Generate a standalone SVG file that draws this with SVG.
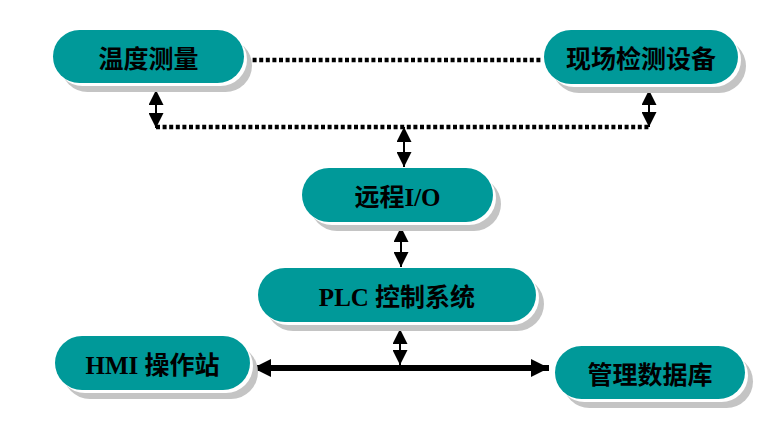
<svg xmlns="http://www.w3.org/2000/svg" width="782" height="437" viewBox="0 0 782 437">
<style>
.sh{fill:#c4c4c4}
.wh{fill:#ffffff}
.pill{fill:#009999}
.lbl{font-family:"Liberation Serif","Noto Sans CJK SC",serif;font-size:25px;font-weight:bold;fill:#000;text-anchor:middle}
.dot{stroke:#000;stroke-width:4.5;stroke-dasharray:4 2.6;fill:none}
.va{stroke:#000;stroke-width:2;fill:none;marker-start:url(#ah);marker-end:url(#ah)}
.ha{stroke:#000;stroke-width:6;fill:none;marker-start:url(#ahb);marker-end:url(#ahb)}
</style>
<defs>
<marker id="ah" markerUnits="userSpaceOnUse" viewBox="0 0 15 15" refX="15" refY="7.5" markerWidth="15" markerHeight="15" orient="auto-start-reverse">
<path d="M0,0 L15,7.5 L0,15 Z" fill="#000"/>
</marker>
<marker id="ahb" markerUnits="userSpaceOnUse" viewBox="0 0 18 18" refX="18" refY="9" markerWidth="18" markerHeight="18" orient="auto-start-reverse">
<path d="M0,0 L18,9 L0,18 Z" fill="#000"/>
</marker>
</defs>
<g id="connectors">
<line class="dot" x1="246" y1="60" x2="543" y2="60"/>
<line class="dot" x1="156" y1="127" x2="651" y2="127"/>
<line class="va" x1="156" y1="90" x2="156" y2="128"/>
<line class="va" x1="649" y1="90" x2="649" y2="127"/>
<line class="va" x1="404" y1="127" x2="404" y2="167"/>
<line class="va" x1="401" y1="227" x2="401" y2="267"/>
<line class="va" x1="400" y1="329" x2="400" y2="365"/>
<line class="ha" x1="253" y1="368" x2="549" y2="368"/>
</g>
<g id="node-wendu">
<rect class="sh" x="61" y="39" width="191" height="53" rx="26.5"/>
<rect class="wh" x="56" y="33" width="191" height="53" rx="26.5"/>
<rect class="pill" x="53" y="30" width="191" height="53" rx="26.5"/>
<text class="lbl" x="148.5" y="67.5">温度测量</text>
</g>
<g id="node-xianchang">
<rect class="sh" x="552" y="39" width="194" height="54" rx="27"/>
<rect class="wh" x="547" y="33" width="194" height="54" rx="27"/>
<rect class="pill" x="544" y="30" width="194" height="54" rx="27"/>
<text class="lbl" x="641" y="68">现场检测设备</text>
</g>
<g id="node-io">
<rect class="sh" x="310" y="177" width="191" height="54" rx="27"/>
<rect class="wh" x="305" y="171" width="191" height="54" rx="27"/>
<rect class="pill" x="302" y="168" width="191" height="54" rx="27"/>
<text class="lbl" x="397.5" y="206">远程I/O</text>
</g>
<g id="node-plc">
<rect class="sh" x="266" y="277" width="278" height="54" rx="27"/>
<rect class="wh" x="261" y="271" width="278" height="54" rx="27"/>
<rect class="pill" x="258" y="268" width="278" height="54" rx="27"/>
<text class="lbl" x="397" y="306">PLC 控制系统</text>
</g>
<g id="node-hmi">
<rect class="sh" x="63" y="345" width="195" height="54" rx="27"/>
<rect class="wh" x="58" y="339" width="195" height="54" rx="27"/>
<rect class="pill" x="55" y="336" width="195" height="54" rx="27"/>
<text class="lbl" x="152.5" y="374">HMI 操作站</text>
</g>
<g id="node-db">
<rect class="sh" x="563" y="355" width="190" height="53" rx="26.5"/>
<rect class="wh" x="558" y="349" width="190" height="53" rx="26.5"/>
<rect class="pill" x="555" y="346" width="190" height="53" rx="26.5"/>
<text class="lbl" x="650" y="383.5">管理数据库</text>
</g>
</svg>
